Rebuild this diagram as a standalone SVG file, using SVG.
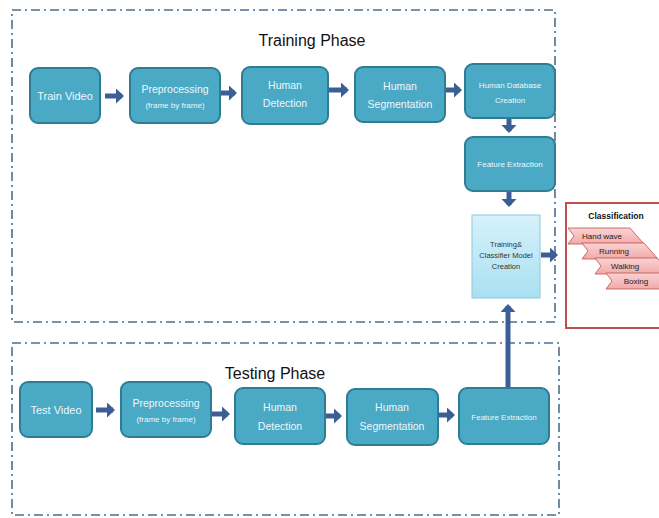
<svg xmlns="http://www.w3.org/2000/svg" width="659" height="518" viewBox="0 0 659 518">
<defs>
<style>
.phase{fill:none;stroke:#4e6e8e;stroke-width:1.6;stroke-dasharray:9 4 2 4}
.node{fill:#4aa9c5;stroke:#2e7d95;stroke-width:2}
.t{fill:#eef7fa;font-family:"Liberation Sans",Arial,sans-serif;text-anchor:middle}
.title{fill:#111;font-family:"Liberation Sans",Arial,sans-serif;font-size:16px;text-anchor:middle}
.arr{stroke:#3b5e94;stroke-width:5;fill:none;marker-end:url(#ah)}
.chev{fill:url(#pink);stroke:#c0504d;stroke-width:0.8}
.ct{fill:#222;font-family:"Liberation Sans",Arial,sans-serif;font-size:8px;text-anchor:middle}
</style>
<marker id="ah" markerWidth="3" markerHeight="3" refX="1.2" refY="1.5" orient="auto" markerUnits="strokeWidth">
<path d="M0,0 L1.6,1.5 L0,3 Z" fill="#3b5e94"/>
</marker>
<linearGradient id="cyan" x1="0" y1="0" x2="0" y2="1">
<stop offset="0" stop-color="#d6f1fb"/>
<stop offset="1" stop-color="#a9e0f2"/>
</linearGradient>
<linearGradient id="pink" x1="0" y1="0" x2="0" y2="1">
<stop offset="0" stop-color="#fbd3d3"/>
<stop offset="1" stop-color="#f2a9a9"/>
</linearGradient>
</defs>
<rect width="659" height="518" fill="#fff"/>
<rect class="phase" x="12" y="10" width="543" height="312"/>
<rect class="phase" x="12" y="343" width="547" height="172"/>
<text class="title" x="312" y="46">Training Phase</text>
<text class="title" x="275" y="379">Testing Phase</text>

<g id="connectors">
<line class="arr" x1="105" y1="96" x2="122" y2="96"/>
<line class="arr" x1="220" y1="93" x2="235" y2="93"/>
<line class="arr" x1="329" y1="90" x2="347" y2="90"/>
<line class="arr" x1="445" y1="90" x2="460" y2="90"/>
<line class="arr" x1="509" y1="118" x2="509" y2="131"/>
<line class="arr" x1="509" y1="192" x2="509" y2="205"/>
<line class="arr" x1="541" y1="255" x2="556" y2="255"/>
<line class="arr" x1="96" y1="410" x2="113" y2="410"/>
<line class="arr" x1="211" y1="414" x2="228" y2="414"/>
<line class="arr" x1="326" y1="416" x2="340" y2="416"/>
<line class="arr" x1="438" y1="415" x2="453" y2="415"/>
<line class="arr" x1="508" y1="387" x2="508" y2="306"/>
</g>

<g id="train-video"><rect class="node" x="30" y="68" width="70" height="55" rx="8"/><text class="t" x="65" y="100" font-size="11">Train Video</text></g>
<g id="train-preprocessing"><rect class="node" x="130" y="68" width="90" height="55" rx="8"/><text class="t" x="175" y="93" font-size="10.5">Preprocessing</text><text class="t" x="175" y="108" font-size="8">(frame by frame)</text></g>
<g id="train-detection"><rect class="node" x="242" y="67" width="86" height="57" rx="8"/><text class="t" x="285" y="89" font-size="10.5">Human</text><text class="t" x="285" y="107" font-size="10.5">Detection</text></g>
<g id="train-segmentation"><rect class="node" x="355" y="67" width="90" height="55" rx="8"/><text class="t" x="400" y="90" font-size="10.5">Human</text><text class="t" x="400" y="108" font-size="10.5">Segmentation</text></g>
<g id="human-database"><rect class="node" x="465" y="64" width="90" height="54" rx="8"/><text class="t" x="510" y="88" font-size="8">Human Database</text><text class="t" x="510" y="103" font-size="8">Creation</text></g>
<g id="train-feature"><rect class="node" x="465" y="137" width="90" height="54" rx="8"/><text class="t" x="510" y="167" font-size="8">Feature Extraction</text></g>
<g id="training-classifier"><rect x="472" y="215" width="68" height="83" fill="url(#cyan)" stroke="#8cc9dc" stroke-width="1"/><text class="t" x="506" y="247" font-size="7.5" fill="#333" style="fill:#333">Training&amp;</text><text class="t" x="506" y="258" font-size="7.5" style="fill:#333">Classifier Model</text><text class="t" x="506" y="269" font-size="7.5" style="fill:#333">Creation</text></g>

<g id="classification">
<rect x="566" y="203" width="100" height="125" fill="#fff" stroke="#c0504d" stroke-width="2"/>
<text x="616" y="219" font-family="'Liberation Sans',Arial,sans-serif" font-size="8.5" font-weight="bold" text-anchor="middle" fill="#111">Classification</text>
<polygon class="chev" points="568,228 630,228 644,244 630,244 568,244 574,236"/>
<text class="ct" x="602" y="239">Hand wave</text>
<polygon class="chev" points="582,243 644,243 658,259 644,259 582,259 588,251"/>
<text class="ct" x="614" y="254">Running</text>
<polygon class="chev" points="595,258 657,258 671,274 657,274 595,274 601,266"/>
<text class="ct" x="625" y="269">Walking</text>
<polygon class="chev" points="606,273 668,273 682,289 668,289 606,289 612,281"/>
<text class="ct" x="636" y="284">Boxing</text>
</g>

<g id="test-video"><rect class="node" x="20" y="382" width="72" height="55" rx="8"/><text class="t" x="56" y="414" font-size="11">Test Video</text></g>
<g id="test-preprocessing"><rect class="node" x="121" y="382" width="90" height="55" rx="8"/><text class="t" x="166" y="407" font-size="10.5">Preprocessing</text><text class="t" x="166" y="422" font-size="8">(frame by frame)</text></g>
<g id="test-detection"><rect class="node" x="235" y="388" width="90" height="56" rx="8"/><text class="t" x="280" y="411" font-size="10.5">Human</text><text class="t" x="280" y="430" font-size="10.5">Detection</text></g>
<g id="test-segmentation"><rect class="node" x="347" y="389" width="91" height="56" rx="8"/><text class="t" x="392" y="411" font-size="10.5">Human</text><text class="t" x="392" y="430" font-size="10.5">Segmentation</text></g>
<g id="test-feature"><rect class="node" x="459" y="388" width="90" height="56" rx="8"/><text class="t" x="504" y="420" font-size="8">Feature Extraction</text></g>
</svg>
